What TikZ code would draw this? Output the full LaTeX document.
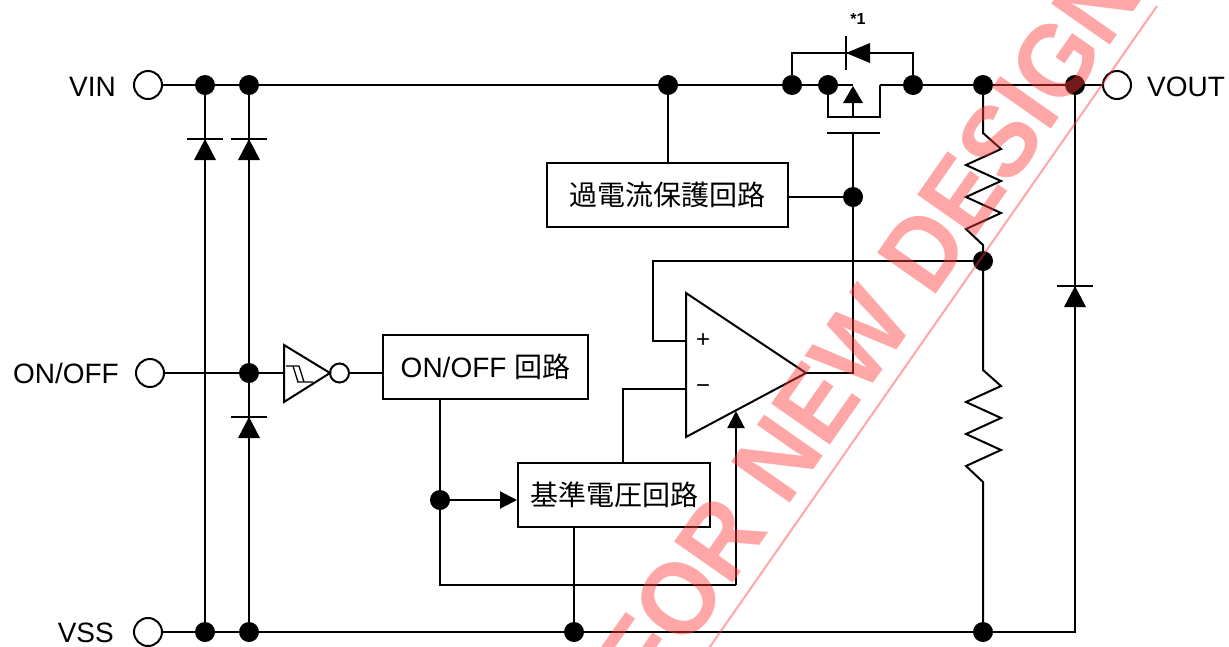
\documentclass[tikz,border=0pt]{standalone}
\usepackage{fontspec}
\setmainfont{Liberation Sans}
\newfontfamily\cjk{Noto Sans CJK JP}
\usetikzlibrary{arrows.meta}
\definecolor{wmred}{RGB}{255,60,60}
\begin{document}
\begin{tikzpicture}[x=1pt,y=-1pt,
  wire/.style={line width=2pt},
  thinw/.style={line width=1.3pt},
  dot/.style={circle,fill=black,inner sep=0pt,minimum size=20pt},
  term/.style={circle,draw=black,fill=white,line width=2pt,inner sep=0pt,minimum size=28pt},
  blk/.style={draw=black,line width=2pt,inner sep=0pt},
  lbl/.style={inner sep=0pt,font=\fontsize{28}{32}\selectfont},
  cj/.style={font=\cjk\fontsize{28}{32}\selectfont},
  pm/.style={inner sep=0pt,font=\fontsize{24}{28}\selectfont},
  tip/.style={-{Triangle[length=17pt,width=17pt]}},
  wm/.style={inner sep=0pt,text=wmred,text opacity=0.45,font=\bfseries\fontsize{104}{104}\selectfont}
]
\useasboundingbox (0,0) rectangle (1229,646);
% terminals
\node[term] (tvin) at (148,85) {};
\node[term] (ton) at (150,373) {};
\node[term] (tvss) at (148,632) {};
\node[term] (tvout) at (1117,85) {};
\node[lbl,anchor=base east] (lvin) at (116,96) {VIN};
\node[lbl,anchor=base east] (lon) at (119,383) {ON/OFF};
\node[lbl,anchor=base east] (lvss) at (114,642) {VSS};
\node[lbl,anchor=base west] (lvout) at (1147,96) {VOUT};
% coordinates
\coordinate (pmA) at (853,85);
\coordinate (pmB) at (880,85);
\coordinate (pmBL) at (828,117);
\coordinate (pmBR) at (880,117);
\coordinate (pmAB) at (853,103);
\coordinate (pmAC) at (853,117);
\coordinate (gL) at (827,133);
\coordinate (gR) at (880,133);
\coordinate (gM) at (853,133);
\coordinate (oOut) at (853,373);
\coordinate (oA) at (806,373);
\coordinate (oT) at (686,293);
\coordinate (oB) at (686,437);
\coordinate (oP) at (686,341);
\coordinate (oN) at (686,389);
\coordinate (oV) at (736,411);
\coordinate (bd1) at (792,53);
\coordinate (bd2) at (913,53);
\coordinate (c1) at (1075,632);
\coordinate (fbL) at (653,341);
\coordinate (fbT) at (653,261);
\coordinate (rtop) at (623,389);
\coordinate (rb1) at (440,585);
\coordinate (rb2) at (736,585);
% blocks
\node[blk,minimum width=241pt,minimum height=64pt,cj] (ocp) at (667.5,195) {過電流保護回路};
\node[blk,minimum width=205pt,minimum height=64pt] (onb) at (485.5,367) {\fontsize{28}{32}\selectfont ON/OFF \cjk\fontsize{28}{32}\selectfont 回路};
\node[blk,minimum width=192pt,minimum height=64pt,cj] (refb) at (614,495) {基準電圧回路};
% VIN rail
\draw[wire] (tvin.east) -- (pmA);
\draw[wire] (pmB) -- (tvout.west);
% VSS rail
\draw[wire] (tvss.east) -- (c1) -- (1075,85);
% left verticals
\draw[wire] (205,85) -- (205,632);
\draw[wire] (249,85) -- (249,632);
\fill (205,139) -- (216,160) -- (194,160) -- cycle;
\draw[wire] (187,139) -- (223,139);
\fill (249,139) -- (260,160) -- (238,160) -- cycle;
\draw[wire] (231,139) -- (267,139);
\fill (249,417) -- (260,438) -- (238,438) -- cycle;
\draw[wire] (231,417) -- (267,417);
% ON/OFF path
\draw[wire] (ton.east) -- (284,373);
\draw[wire,line join=miter] (284,345) -- (330,373) -- (284,402) -- cycle;
\node[circle,draw,line width=2pt,minimum size=19pt,inner sep=0pt] (bub) at (339.5,373) {};
\draw[thinw] (286,366) -- (299,366) (293,366) -- (298,382) (299,366) -- (304,382) (297,382) -- (313,382);
\draw[wire] (bub.east) -- (bub.east -| onb.west);
\draw[wire] (onb.south -| rb1) -- (rb1) -- (rb2);
\draw[wire,tip] (rb2) -- (oV);
\node[dot] (e1) at (440,500) {};
\draw[wire,tip] (e1.center) -- (e1.center -| refb.west);
\draw[wire] (refb.north -| rtop) -- (rtop) -- (oN);
\node[dot] (b3) at (574,632) {};
\draw[wire] (refb.south -| b3) -- (b3.center);
% opamp
\draw[wire,line join=miter] (oT) -- (oA) -- (oB) -- cycle;
\node[pm] (plus) at (703,341) {+};
\node[pm] (minus) at (703,389) {\char"2212};
\node[dot] (f1) at (983,261) {};
\draw[wire] (oP) -- (fbL) -- (fbT) -- (f1.center);
\draw[wire] (oA) -- (oOut) -- (gM);
% OCP
\node[dot] (a3) at (668,85) {};
\draw[wire] (a3.center) -- (ocp.north -| a3);
\node[dot] (g1) at (853,197) {};
\draw[wire] (g1.center -| ocp.east) -- (g1.center);
% PMOS
\node[dot] (a4) at (792,85) {};
\node[dot] (a5) at (828,85) {};
\node[dot] (a6) at (913,85) {};
\draw[wire] (a5.center) -- (pmBL) -- (pmBR) -- (pmB);
\fill (853,86) -- (863,103) -- (843,103) -- cycle;
\draw[wire] (pmAB) -- (pmAC);
\draw[wire] (gL) -- (gR);
\draw[wire] (a4.center) -- (bd1) -- (bd2) -- (a6.center);
\fill (846,53) -- (870,43) -- (870,63) -- cycle;
\draw[wire] (846,36) -- (846,70);
\node[inner sep=0pt,font=\bfseries\fontsize{16}{18}\selectfont] (star) at (858,19) {*1};
% resistors
\node[dot] (a7) at (983,85) {};
\node[dot] (b4) at (983,632) {};
\draw[wire] (a7.center) -- (983,133) -- (1001,149) -- (966,165) -- (1001,181) -- (966,197) -- (1001,213) -- (966,229) -- (983,245) -- (f1.center);
\draw[wire] (f1.center) -- (983,370) -- (1001,386) -- (966,402) -- (1001,418) -- (966,434) -- (1001,450) -- (966,466) -- (983,482) -- (b4.center);
% right diode
\node[dot] (a8) at (1075,85) {};
\fill (1075,286) -- (1086,307) -- (1064,307) -- cycle;
\draw[wire] (1057,286) -- (1093,286);
% dots
\node[dot] (a1) at (205,85) {};
\node[dot] (a2) at (249,85) {};
\node[dot] (b1) at (205,632) {};
\node[dot] (b2) at (249,632) {};
\node[dot] (d1) at (249,373) {};
% watermark
\begin{scope}
\clip (0,0) rectangle (1229,646);
\node[wm,rotate=55,xscale=0.94,anchor=base west] (wmt) at (652,700) {FOR NEW DESIGN};
\coordinate (wl1) at (700,661);
\coordinate (wl2) at (1157,6);
\draw[wmred,opacity=0.45,line width=2pt] (wl1) -- (wl2);
\end{scope}
\end{tikzpicture}
\end{document}
